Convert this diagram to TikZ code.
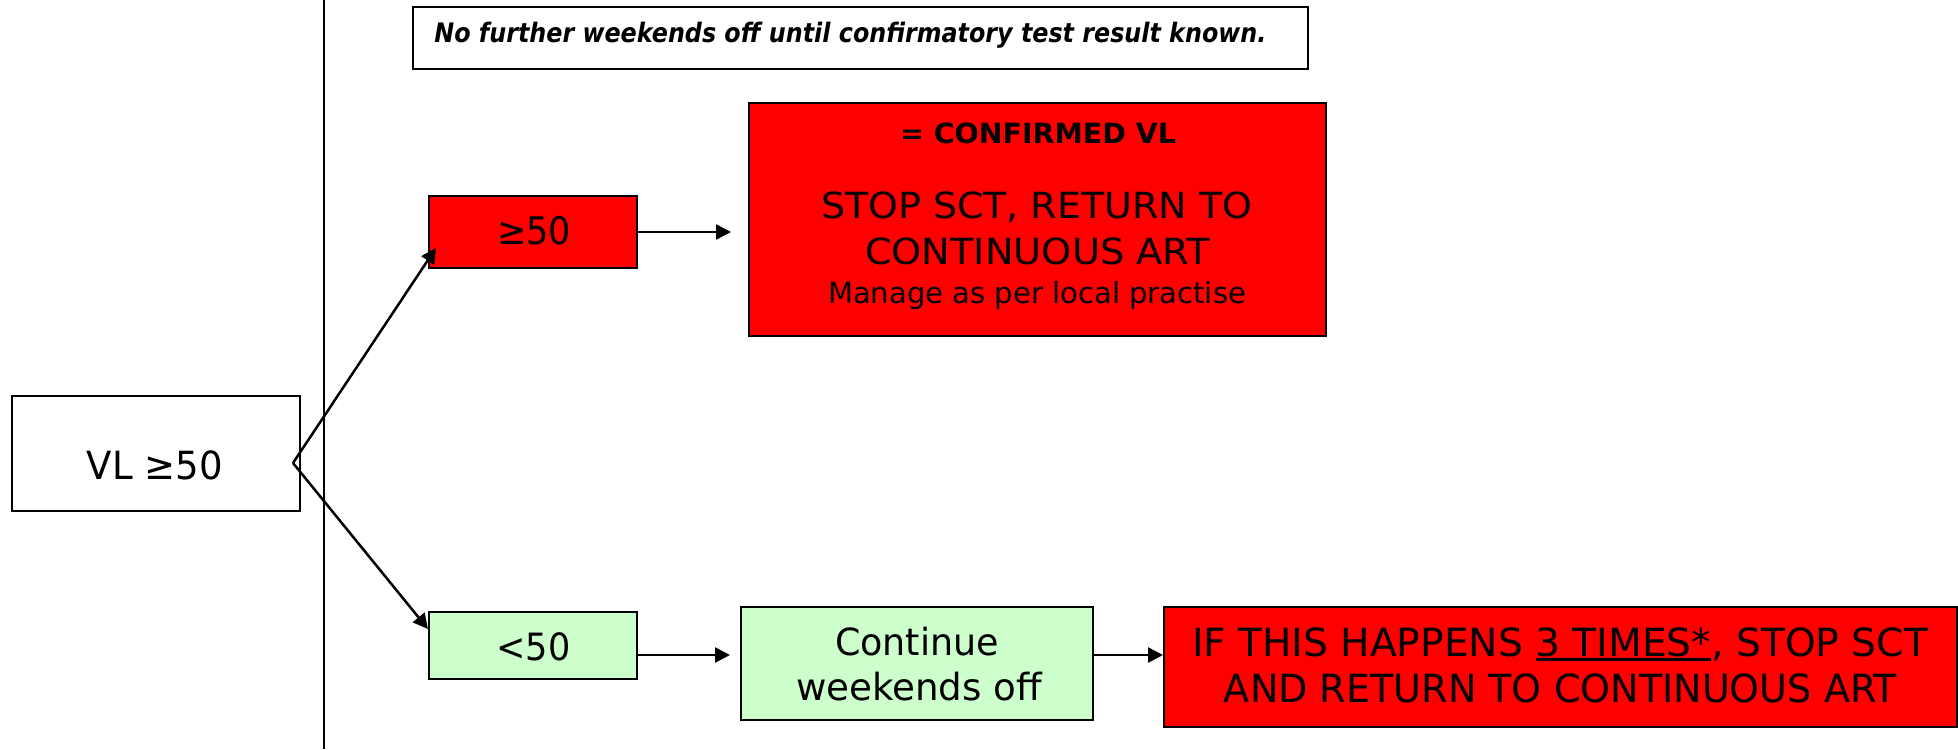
\documentclass[tikz,border=0pt]{standalone}
\usepackage{fontspec}
\setmainfont{DejaVu Sans}
\usetikzlibrary{arrows.meta,calc}
\definecolor{boxred}{HTML}{FF0000}
\definecolor{boxgreen}{HTML}{CCFFCC}
\newcommand\fitw[2]{\resizebox{#1}{\height}{#2}}
\newcommand\ulbox[1]{\setbox0\hbox{#1}\rlap{\rule[-2.25pt]{\wd0}{1.5pt}}\box0}
\begin{document}
\begin{tikzpicture}[x=0.5pt,y=-0.5pt,
  box/.style={draw=black,line width=1pt,inner sep=0pt,rectangle},
  txt/.style={inner sep=0pt,anchor=base,text=black},
  arr/.style={line width=1.25pt,-{Triangle[length=7.5pt,width=7.5pt]}}]
\useasboundingbox (0,0) rectangle (1958,749);
% divider
\coordinate (vtop) at (323.5,0);
\coordinate (vbot) at (323.5,749);
\draw[line width=1pt] (vtop) -- (vbot);
% boxes
\node[box,fill=white,minimum width=144pt,minimum height=57.5pt] (vl) at (156,453.5) {};
\node[box,fill=white,minimum width=447.5pt,minimum height=31pt] (top) at (860.5,38) {};
\node[box,fill=boxred,minimum width=104pt,minimum height=36pt] (ge) at (533,232) {};
\node[box,fill=boxred,minimum width=288.5pt,minimum height=116.5pt] (big) at (1037.5,219.5) {};
\node[box,fill=boxgreen,minimum width=104pt,minimum height=33.5pt] (lt) at (533,645.5) {};
\node[box,fill=boxgreen,minimum width=176pt,minimum height=56.5pt] (cont) at (917,663.5) {};
\node[box,fill=boxred,minimum width=396.5pt,minimum height=60pt] (red2) at (1560.5,667) {};
% texts
\node[txt] (vlt) at (155,479) {\fontsize{19.4}{23}\selectfont\fitw{68pt}{VL ≥50}};
\node[txt,anchor=base west] (topt) at (434,43) {\fontsize{13.4}{16}\selectfont\bfseries\itshape\fitw{416pt}{No further weekends off until confirmatory test result known.}};
\node[txt] (get) at (534,244) {\fontsize{19}{23}\selectfont\fitw{37pt}{≥50}};
\node[txt] (ltt) at (533.5,660) {\fontsize{18.8}{23}\selectfont\fitw{37pt}{<50}};
\node[txt] (bigA) at (1038,143) {\fontsize{13.9}{16}\selectfont\bfseries\fitw{138pt}{= CONFIRMED VL}};
\node[txt] (bigB) at (1036.5,218) {\fontsize{18}{21}\selectfont\fitw{215.5pt}{STOP SCT, RETURN TO}};
\node[txt] (bigC) at (1037.5,264) {\fontsize{18}{21}\selectfont\fitw{172.5pt}{CONTINUOUS ART}};
\node[txt] (bigD) at (1037,303) {\fontsize{14.6}{17}\selectfont\fitw{209pt}{Manage as per local practise}};
\node[txt] (contA) at (917,655) {\fontsize{18.7}{22}\selectfont\fitw{82pt}{Continue}};
\node[txt] (contB) at (919,700) {\fontsize{18.7}{22}\selectfont\fitw{123pt}{weekends off}};
\node[txt] (redA) at (1560,656) {\fontsize{19.4}{23}\selectfont\fitw{368pt}{IF THIS HAPPENS \ulbox{3 TIMES*}, STOP SCT}};
\node[txt] (redB) at (1560.5,702) {\fontsize{19.4}{23}\selectfont\fitw{336.5pt}{AND RETURN TO CONTINUOUS ART}};
% connectors
\coordinate (fork) at (293,463);
\draw[arr] (fork) -- ($(ge.south west)+(8,-21)$);
\draw[arr] (fork) -- ($(lt.north west)+(0,18)$);
\draw[arr,shorten >=8.5pt] (ge.east) -- (ge.east -| big.west);
\draw[arr,shorten >=5pt] ([yshift=-4.75pt]lt.east) -- ([yshift=-4.75pt]lt.east -| cont.west);
\draw[arr] ([yshift=4.25pt]cont.east) -- ([yshift=4.25pt]cont.east -| red2.west);
\end{tikzpicture}
\end{document}
